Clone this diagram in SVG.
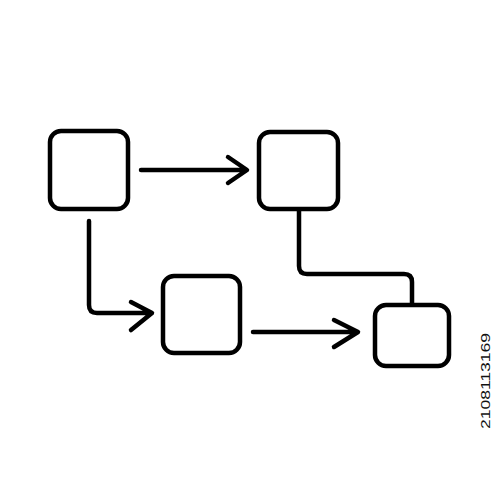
<svg xmlns="http://www.w3.org/2000/svg" width="500" height="500" viewBox="0 0 500 500">
<style>
.box{fill:#fff;stroke:#000;stroke-width:4.5}
.ln{fill:none;stroke:#000;stroke-width:4.5;stroke-linecap:round;stroke-linejoin:round}
.id{font-family:"Liberation Sans",Arial,sans-serif;font-size:12px;fill:#111}
</style>
<rect width="500" height="500" fill="#fff"/>
<g id="connectors">
<path class="ln" d="M141,170 H246 M228,157 L247,170 L228,183"/>
<path class="ln" d="M89,221 V305 Q89,313 97,313 H151 M131,302 L152,313 L131,330"/>
<path class="ln" d="M299,211 V266 Q299,274 307,274 H404 Q412,274 412,282 V303"/>
<path class="ln" d="M253,332 H357 M334,320 L358,332 L334,347"/>
</g>
<g id="nodeA"><rect class="box" x="50" y="131" width="78" height="78" rx="11"/></g>
<g id="nodeB"><rect class="box" x="259" y="132" width="79" height="77" rx="11"/></g>
<g id="nodeC"><rect class="box" x="163" y="276" width="77" height="77" rx="11"/></g>
<g id="nodeD"><rect class="box" x="375" y="305" width="74" height="61" rx="11"/></g>
<text class="id" transform="translate(490,429) rotate(-90)" textLength="96" lengthAdjust="spacingAndGlyphs">2108113169</text>
</svg>
